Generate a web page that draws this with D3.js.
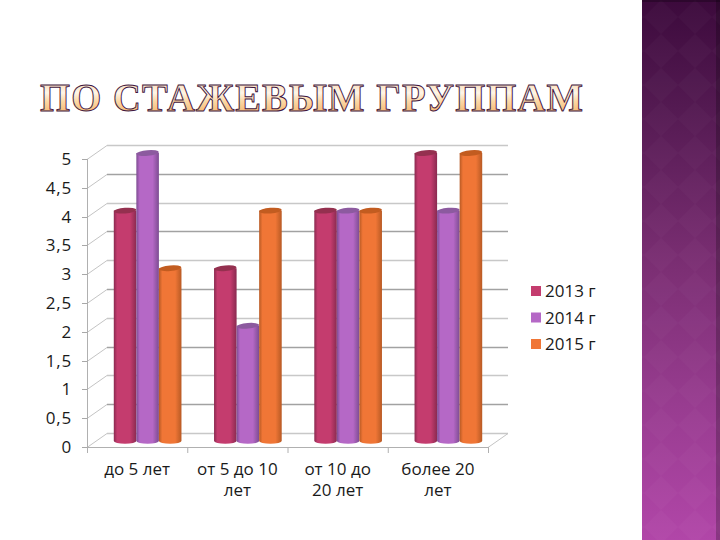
<!DOCTYPE html>
<html><head><meta charset="utf-8">
<script src="https://cdn.jsdelivr.net/npm/d3@7/dist/d3.min.js"></script>
<style>html,body{margin:0;padding:0;background:#fff}svg{display:block}</style>
</head><body>
<div id="c"></div>
<script>
const categories = [["до 5 лет"],["от 5 до 10","лет"],["от 10 до","20 лет"],["более 20","лет"]];
const seriesNames = ["2013 г","2014 г","2015 г"];
const values2013 = [4,3,4,5];
const values2014 = [5,2,4,4];
const values2015 = [3,4,4,5];
const yTicks = [0,0.5,1,1.5,2,2.5,3,3.5,4,4.5,5];
const titleText = "ПО СТАЖЕВЫМ ГРУППАМ";
const seriesValues = [values2013,values2014,values2015];
const colors = [
  {id:"g0",edge:"#8a2a50",mid:"#c43c6e",top:"#94304f"},
  {id:"g1",edge:"#7d4c92",mid:"#b568c6",top:"#8c5a9f"},
  {id:"g2",edge:"#b85a24",mid:"#f07636",top:"#c25c20"}];
const W=720,H=540,font="'Open Sans','DejaVu Sans',sans-serif";
const svg=d3.select("#c").append("svg").attr("width",W).attr("height",H);
const defs=svg.append("defs");

// side panel
const pg=defs.append("linearGradient").attr("id","panel").attr("x1",0).attr("x2",0).attr("y1",0).attr("y2",1);
[[0,"#3c0a3c"],[0.2,"#541a52"],[0.5,"#7c2f74"],[0.75,"#983c90"],[1,"#b146a8"]].forEach(s=>pg.append("stop").attr("offset",s[0]).attr("stop-color",s[1]));
const pat=defs.append("pattern").attr("id","dia").attr("width",34).attr("height",34).attr("patternUnits","userSpaceOnUse").attr("x",644);
pat.append("path").attr("d","M17 0L34 17L17 34L0 17Z").attr("fill","#fff").attr("opacity",0.018);
svg.append("rect").attr("x",642).attr("y",0).attr("width",78).attr("height",H).attr("fill","url(#panel)");
svg.append("rect").attr("x",642).attr("y",0).attr("width",78).attr("height",H).attr("fill","url(#dia)");
svg.append("rect").attr("x",716).attr("y",0).attr("width",4).attr("height",H).attr("fill","#000").attr("opacity",0.22);
svg.append("rect").attr("x",642).attr("y",0).attr("width",78).attr("height",2).attr("fill","#000").attr("opacity",0.25);

// title
const tg=defs.append("linearGradient").attr("id","tt").attr("x1",0).attr("x2",0).attr("y1",0).attr("y2",1);
[[0,"#f6c48c"],[0.42,"#fff6e8"],[0.6,"#fcd8a6"],[1,"#f2a656"]].forEach(s=>tg.append("stop").attr("offset",s[0]).attr("stop-color",s[1]));
svg.append("text").attr("x",40).attr("y",110.5).attr("textLength",544).attr("lengthAdjust","spacingAndGlyphs")
  .attr("font-family","'Liberation Serif',serif").attr("font-weight","bold").attr("font-size",41)
  .attr("letter-spacing",1.2)
  .attr("fill","url(#tt)").attr("stroke","#3f1540").attr("stroke-width",1).text(titleText);

// scales
const x0=d3.scaleBand().domain(d3.range(categories.length)).range([87,488]);
const y=d3.scaleLinear().domain([0,5]).range([447,159]);
const depthX=20,depthY=-14,barDX=10.5,barDY=-6;
const groupW=x0.bandwidth()*0.675;
const x1=d3.scaleBand().domain(d3.range(seriesNames.length)).range([0,groupW]);

// grid
const grid=svg.append("g").attr("fill","none");
yTicks.forEach((t,i)=>{
  const yy=Math.round(y(t))+0.5, c=i%2? "#a2a2a2":"#c8c8c8";
  grid.append("line").attr("x1",x0.range()[0]+depthX).attr("x2",x0.range()[1]+depthX).attr("y1",yy+depthY).attr("y2",yy+depthY).attr("stroke",c).attr("stroke-width",1.3);
  grid.append("line").attr("x1",x0.range()[0]).attr("x2",x0.range()[0]+depthX).attr("y1",yy).attr("y2",yy+depthY).attr("stroke","#c4c4c4");
  grid.append("line").attr("x1",x0.range()[0]-5).attr("x2",x0.range()[0]).attr("y1",yy).attr("y2",yy).attr("stroke","#a8a8a8");
});
// walls / axes
grid.append("line").attr("x1",87.5).attr("x2",87.5).attr("y1",y(5)).attr("y2",y(0)+5).attr("stroke","#b0b0b0");
grid.append("line").attr("x1",87).attr("x2",488).attr("y1",y(0)+.5).attr("y2",y(0)+.5).attr("stroke","#b0b0b0");
grid.append("line").attr("x1",488).attr("x2",508).attr("y1",y(0)+.5).attr("y2",y(0)+depthY+.5).attr("stroke","#c4c4c4");
d3.range(categories.length+1).forEach(i=>{
  const xx=i<categories.length?x0(i):x0.range()[1];
  grid.append("line").attr("x1",xx+.5).attr("x2",xx+.5).attr("y1",y(0)).attr("y2",y(0)+6).attr("stroke","#b0b0b0");
});

// y labels
svg.append("g").selectAll("text").data(yTicks).join("text")
  .attr("x",72).attr("y",d=>y(d)+6).attr("text-anchor","end")
  .attr("font-family",font).attr("font-size",17).attr("letter-spacing",0.8).attr("fill","#1a1a1a")
  .text(d=>String(d).replace(".",","));

// cylinders
colors.forEach(c=>{
  const g=defs.append("linearGradient").attr("id",c.id);
  [[0,c.edge],[0.15,c.mid],[0.72,c.mid],[1,c.edge]].forEach(s=>g.append("stop").attr("offset",s[0]).attr("stop-color",s[1]));
});
const ry=2.8;
const bars=svg.append("g");
categories.forEach((cat,i)=>{
  seriesValues.forEach((vals,s)=>{
    const w=x1.bandwidth();
    const left=x0(i)+(x0.bandwidth()-groupW)/2+x1(s)+barDX;
    const top=y(vals[i])+barDY, bot=y(0)+barDY;
    bars.append("path")
      .attr("d",`M${left} ${top}L${left} ${bot}A${w/2} ${ry} 0 0 0 ${left+w} ${bot}L${left+w} ${top}Z`)
      .attr("fill",`url(#${colors[s].id})`);
    bars.append("ellipse").attr("cx",left+w/2).attr("cy",top).attr("rx",w/2).attr("ry",ry)
      .attr("transform",`rotate(-5 ${left+w/2} ${top})`).attr("fill",colors[s].top);
  });
});

// x labels
categories.forEach((cat,i)=>{
  const t=svg.append("text").attr("text-anchor","middle").attr("font-family",font).attr("font-size",17).attr("fill","#1a1a1a");
  cat.forEach((l,j)=>t.append("tspan").attr("x",x0(i)+x0.bandwidth()/2).attr("y",475+j*21).text(l));
});

// legend
const ly=d3.scalePoint().domain(d3.range(seriesNames.length)).range([291,344]);
seriesNames.forEach((n,i)=>{
  svg.append("rect").attr("x",531).attr("y",ly(i)-5).attr("width",10).attr("height",10).attr("fill",colors[i].mid);
  svg.append("text").attr("x",545).attr("y",ly(i)+6).attr("font-family",font).attr("font-size",17).attr("fill","#1a1a1a").text(n);
});
</script>
</body></html>
